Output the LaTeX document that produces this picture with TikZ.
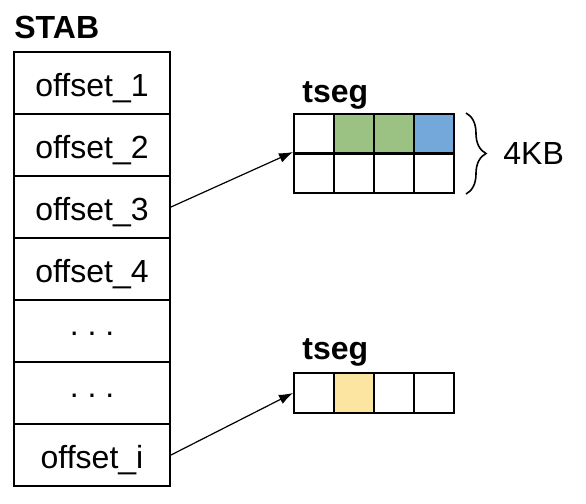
\documentclass[tikz,border=0pt]{standalone}
\usepackage{fontspec}
\setmainfont{Liberation Sans}
\usetikzlibrary{calc, decorations.pathreplacing, arrows.meta}
\definecolor{usedgreen}{HTML}{9BC283}
\definecolor{usedblue}{HTML}{74A7DA}
\definecolor{usedyellow}{HTML}{FBE5A0}
\tikzset{
    entry/.style={draw, line width=1pt, minimum width=78pt, minimum height=31pt, inner sep=0pt,
        text height=13pt, text depth=0pt},
    gap/.style={entry, text height=4pt},
    cell/.style={draw, line width=1pt, minimum size=20pt, inner sep=0pt},
    title/.style={anchor=west, inner sep=0pt, font=\fontsize{16}{19}\selectfont\bfseries},
    pointer/.style={-{Latex[length=7pt, width=5pt]}, line width=0.6pt}
}
\newcommand{\offsetname}[1]{offset\_#1}

\begin{document}
\begin{tikzpicture}[x=0.5pt, y=-0.5pt, font=\fontsize{16}{19}\selectfont]
                \useasboundingbox (0,0) rectangle (586,504);

                \node[title] (stab) at (14,27) {STAB};
                \node[entry] (r1) at (92,83) {\offsetname{1}};
                \node[entry] (r2) at (92,145) {\offsetname{2}};
                \node[entry] (r3) at (92,207) {\offsetname{3}};
                \node[entry] (r4) at (92,269) {\offsetname{4}};
                \node[gap] (r5) at (92,331) {.\ .\ .};
                \node[gap] (r6) at (92,393) {.\ .\ .};
                \node[entry] (r7) at (92,455) {\offsetname{i}};

                % first segment, two rows
                \node[title] (tsega) at (302,95) {tseg};
                \node[cell] (a11) at (314,134) {};
                \node[cell, fill=usedgreen] (a12) at (354,134) {};
                \node[cell, fill=usedgreen] (a13) at (394,134) {};
                \node[cell, fill=usedblue] (a14) at (434,134) {};
                \node[cell] (a21) at (314,173) {};
                \node[cell] (a22) at (354,173) {};
                \node[cell] (a23) at (394,173) {};
                \node[cell] (a24) at (434,173) {};

                \draw[line width=0.8pt, decorate, decoration={brace, amplitude=10pt}]
                    (a14.north east) ++(11,0) coordinate (bt) -- (a24.south east -| bt) coordinate (bb);
                \node[anchor=west, inner sep=0pt] (size) at ($(bt)!0.5!(bb) + (37,0)$) {4KB};

                % second segment
                \node[title] (tsegb) at (302,352) {tseg};
                \node[cell] (b1) at (314,393) {};
                \node[cell, fill=usedyellow] (b2) at (354,393) {};
                \node[cell] (b3) at (394,393) {};
                \node[cell] (b4) at (434,393) {};

                \draw[pointer] (r3.east) -- (a21.north west);
                \draw[pointer] (r7.east) -- (b1.west);
            \end{tikzpicture}
\end{document}
